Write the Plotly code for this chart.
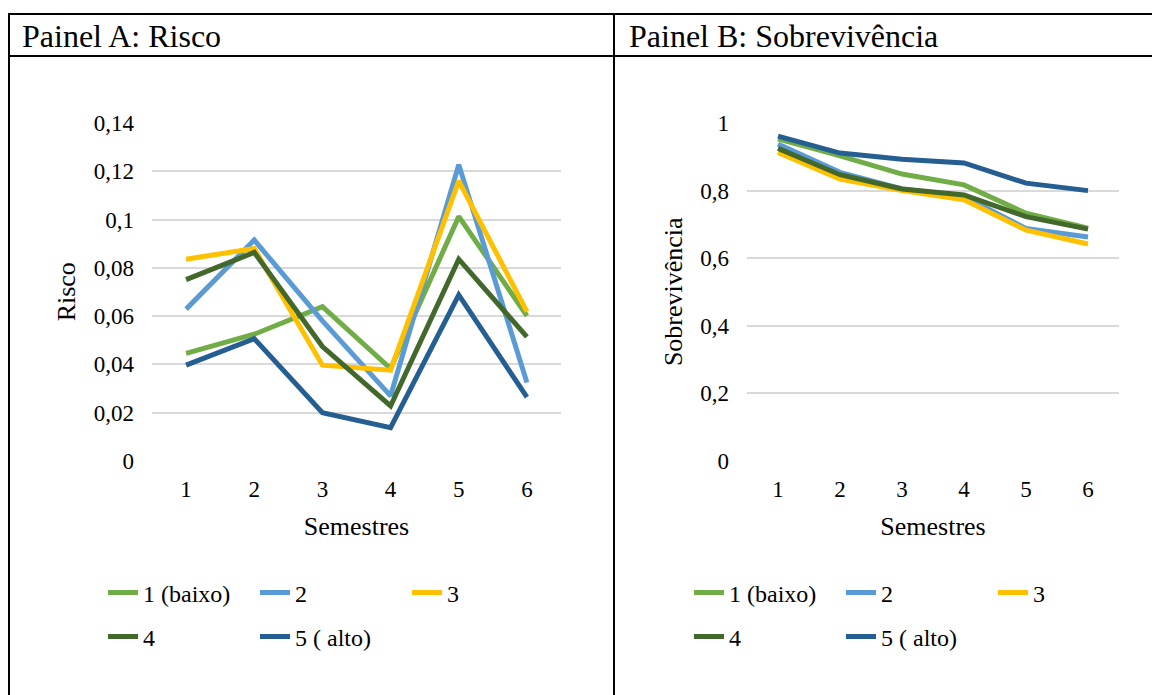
from plotly.graph_objects import Figure, Scatter

# semestres
semestres = [1, 2, 3, 4, 5, 6]
grupos = ["1 (baixo)", "2", "3", "4", "5 ( alto)"]
cores = ["#70AD47", "#5B9BD5", "#FFC000", "#43682B", "#255E91"]

# Painel A: risco por semestre
risco_1 = [0.0446, 0.0525, 0.0639, 0.0383, 0.1013, 0.0601]
risco_2 = [0.0629, 0.0915, 0.0580, 0.0270, 0.1227, 0.0325]
risco_3 = [0.0836, 0.0880, 0.0397, 0.0376, 0.1160, 0.0619]
risco_4 = [0.0751, 0.0864, 0.0474, 0.0228, 0.0836, 0.0514]
risco_5 = [0.0397, 0.0507, 0.0200, 0.0138, 0.0688, 0.0265]

# Painel B: sobrevivencia por semestre
sobrev_1 = [0.953, 0.903, 0.849, 0.817, 0.733, 0.689]
sobrev_2 = [0.938, 0.854, 0.805, 0.783, 0.688, 0.663]
sobrev_3 = [0.913, 0.834, 0.800, 0.773, 0.683, 0.642]
sobrev_4 = [0.925, 0.847, 0.805, 0.787, 0.723, 0.686]
sobrev_5 = [0.961, 0.911, 0.893, 0.882, 0.822, 0.800]

risco_ticks = [0, 0.02, 0.04, 0.06, 0.08, 0.1, 0.12, 0.14]
risco_labels = ["0", "0,02", "0,04", "0,06", "0,08", "0,1", "0,12", "0,14"]
sobrev_ticks = [0, 0.2, 0.4, 0.6, 0.8, 1]
sobrev_labels = ["0", "0,2", "0,4", "0,6", "0,8", "1"]

W, H = 1160, 695
OFF = 8  # the page body has an 8px margin
FONT = "Liberation Serif, Times New Roman, serif"


def px(x):
    return (x - OFF) / W


def py(y):
    return 1 - (y - OFF) / H


fig = Figure()

riscos = [risco_1, risco_2, risco_3, risco_4, risco_5]
sobrevs = [sobrev_1, sobrev_2, sobrev_3, sobrev_4, sobrev_5]
for i in range(5):
    row_a = "legend" if i < 3 else "legend2"
    row_b = "legend3" if i < 3 else "legend4"
    fig.add_trace(Scatter(x=semestres, y=riscos[i], mode="lines", name=grupos[i],
                          line=dict(color=cores[i], width=5), xaxis="x", yaxis="y",
                          legend=row_a))
    fig.add_trace(Scatter(x=semestres, y=sobrevs[i], mode="lines", name=grupos[i],
                          line=dict(color=cores[i], width=5), xaxis="x2", yaxis="y2",
                          legend=row_b))

ydom = [py(461), py(122.5)]
common_x = dict(range=[0.5, 6.5], tickvals=semestres, showgrid=False, zeroline=False,
                showline=False, ticks="", tickfont=dict(family=FONT, size=23, color="black"),
                ticklabelstandoff=12, automargin=False,
                title=dict(text="Semestres", font=dict(family=FONT, size=26, color="black"),
                           standoff=15))
common_y = dict(showgrid=True, gridcolor="#D9D9D9", gridwidth=1.5, zeroline=False,
                showline=False, ticks="", tickfont=dict(family=FONT, size=23, color="black"),
                ticklabelstandoff=17, automargin=False, domain=ydom)

fig.update_layout(
    width=W, height=H,
    margin=dict(l=0, r=0, t=0, b=0),
    font=dict(family=FONT, color="black"),
    paper_bgcolor="white", plot_bgcolor="white",
    showlegend=True,
    xaxis=dict(common_x, domain=[px(152), px(561)], anchor="y"),
    yaxis=dict(common_y, range=[0, 0.1402], tickvals=risco_ticks, ticktext=risco_labels,
               anchor="x",
               title=dict(text="Risco", font=dict(family=FONT, size=26, color="black"),
                          standoff=10)),
    xaxis2=dict(common_x, domain=[px(747), px(1119)], anchor="y2"),
    yaxis2=dict(common_y, range=[0, 1.0015], tickvals=sobrev_ticks, ticktext=sobrev_labels,
                anchor="x2",
                title=dict(text="Sobrevivência", font=dict(family=FONT, size=26, color="black"),
                           standoff=10)),
)

legend_style = dict(orientation="h", xanchor="left", yanchor="middle",
                    entrywidth=107, entrywidthmode="pixels", bgcolor="rgba(0,0,0,0)",
                    font=dict(family=FONT, size=24, color="black"), itemclick=False,
                    itemdoubleclick=False)
fig.update_layout(
    legend=dict(legend_style, x=px(103), y=py(593)),
    legend2=dict(legend_style, x=px(103), y=py(637)),
    legend3=dict(legend_style, x=px(689), y=py(593)),
    legend4=dict(legend_style, x=px(689), y=py(637)),
)

# moldura da tabela
border = dict(color="black", width=2)
fig.add_shape(type="line", xref="paper", yref="paper", x0=px(8.5), x1=1, y0=py(14), y1=py(14), line=border)
fig.add_shape(type="line", xref="paper", yref="paper", x0=px(8.5), x1=1, y0=py(56), y1=py(56), line=border)
fig.add_shape(type="line", xref="paper", yref="paper", x0=px(9), x1=px(9), y0=py(13), y1=0, line=border)
fig.add_shape(type="line", xref="paper", yref="paper", x0=px(614), x1=px(614), y0=py(13), y1=0, line=border)

fig.add_annotation(text="Painel A: Risco", xref="paper", yref="paper", x=px(20), y=py(36),
                   xanchor="left", yanchor="middle", showarrow=False,
                   font=dict(family=FONT, size=32, color="black"))
fig.add_annotation(text="Painel B: Sobrevivência", xref="paper", yref="paper", x=px(627), y=py(36),
                   xanchor="left", yanchor="middle", showarrow=False,
                   font=dict(family=FONT, size=32, color="black"))

fig.write_html("out.html")
